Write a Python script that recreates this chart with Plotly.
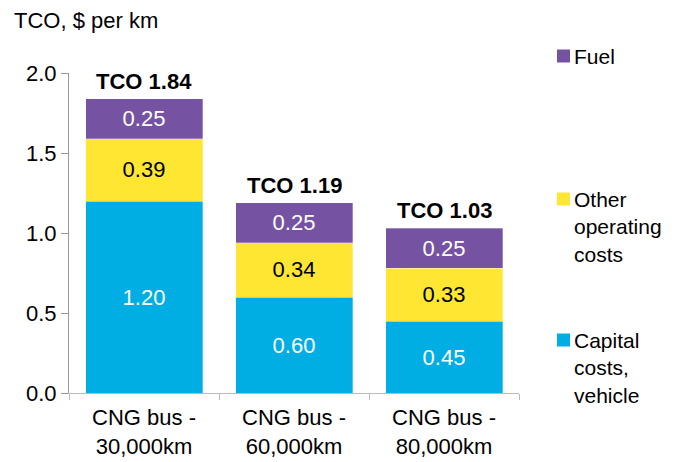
import plotly.graph_objects as go

categories = ["CNG bus -<br>30,000km", "CNG bus -<br>60,000km", "CNG bus -<br>80,000km"]
capital = [1.20, 0.60, 0.45]
other_operating = [0.39, 0.34, 0.33]
fuel = [0.25, 0.25, 0.25]
totals = [1.84, 1.19, 1.03]

series = [
    ("Capital<br>costs,<br>vehicle", capital, "#00AEE4", "white"),
    ("Other<br>operating<br>costs", other_operating, "#FFE633", "black"),
    ("Fuel", fuel, "#7652A2", "white"),
]

FONT = "Liberation Sans, Arial, sans-serif"

fig = go.Figure()
for name, vals, color, txt_color in series:
    fig.add_trace(go.Bar(
        x=categories, y=vals, name=name,
        marker=dict(color=color, line=dict(color="rgba(255,255,255,0.6)", width=0.5)),
        text=[f"{v:.2f}" for v in vals],
        textposition="inside", insidetextanchor="middle",
        textfont=dict(color=txt_color, size=22, family=FONT),
        showlegend=False,
    ))

# totals above each stack
for cat, tot in zip(categories, totals):
    fig.add_annotation(x=cat, y=tot, text=f"<b>TCO {tot:.2f}</b>", showarrow=False,
                       yanchor="bottom", yshift=3, font=dict(size=22, color="black", family=FONT))

# axis title at top left
fig.add_annotation(xref="paper", yref="paper", x=-0.127, y=1.165, text="TCO, $ per km",
                   showarrow=False, xanchor="left", yanchor="middle",
                   font=dict(size=22, color="black", family=FONT))

# custom legend (positions relative to plot area: left 69px, bottom 393px, 450x320)
legend_items = [
    ("Fuel", "#7652A2", 56),
    ("Other<br>operating<br>costs", "#FFE633", 199),
    ("Capital<br>costs,<br>vehicle", "#00AEE4", 340),
]
for label, color, py in legend_items:
    yc = (393 - py) / 320
    fig.add_shape(type="rect", xref="paper", yref="paper",
                  x0=(557 - 69) / 450, x1=(570 - 69) / 450,
                  y0=yc - 6.5 / 320, y1=yc + 6.5 / 320,
                  fillcolor=color, line=dict(width=0))
    fig.add_annotation(xref="paper", yref="paper", x=(572 - 69) / 450, y=yc + 13 / 320,
                       text=label, showarrow=False, xanchor="left", yanchor="top", align="left",
                       font=dict(size=21, color="black", family=FONT))

# page body has an 8px margin, so shift the plot area up/left by 8px
fig.update_layout(
    width=687, height=462,
    margin=dict(l=61, r=176, t=65, b=77),
    barmode="stack", bargap=0.22,
    plot_bgcolor="white", paper_bgcolor="white",
    font=dict(family=FONT, color="black", size=22),
)
fig.update_yaxes(range=[0, 2.0], dtick=0.5, tickformat=".1f", showgrid=False,
                 showline=True, linecolor="#999999", linewidth=1,
                 ticks="outside", ticklen=7, tickcolor="#999999",
                 tickfont=dict(size=22, family=FONT), zeroline=False)
fig.update_xaxes(showline=True, linecolor="#bbbbbb", linewidth=1,
                 ticks="outside", tickson="boundaries", ticklen=6, tickcolor="#bbbbbb",
                 ticklabelstandoff=5,
                 tickfont=dict(size=22, family=FONT))

fig.write_html("out.html")
